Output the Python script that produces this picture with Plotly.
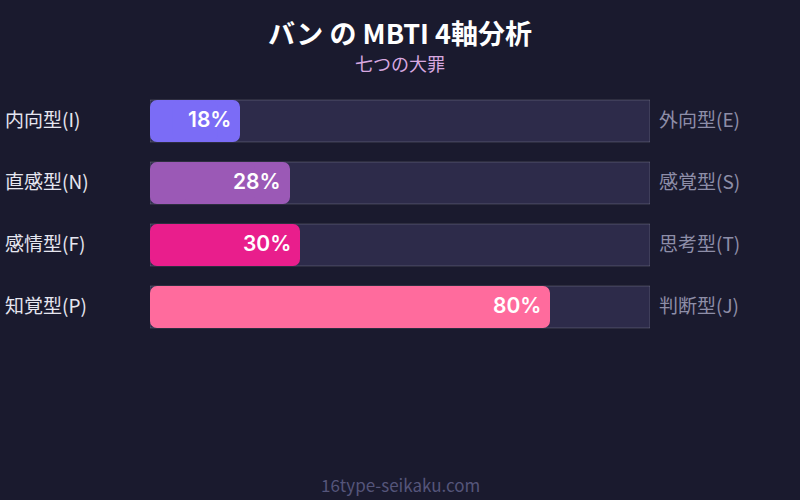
import plotly.graph_objects as go

left_labels = ["内向型(I)", "直感型(N)", "感情型(F)", "知覚型(P)"]
right_labels = ["外向型(E)", "感覚型(S)", "思考型(T)", "判断型(J)"]
values = [18, 28, 30, 80]
colors = ["#7b6cf6", "#9b59b6", "#e91e8c", "#ff6b9d"]
title = "バン の MBTI 4軸分析"
subtitle = "七つの大罪"
footer = "16type-seikaku.com"

FONT = "Noto Sans CJK JP, Inter, sans-serif"
BG = "#1a1a2e"
W, H = 800, 500
ML, MR, MT, MB = 150, 150, 90, 162
PH = H - MT - MB
rows = list(range(len(values)))
half = [v / 2 for v in values]
quarter = [v / 4 for v in values]


def py(p):
    # pixel from top -> paper y
    return (H - MB - p) / PH


fig = go.Figure()
fig.add_trace(go.Bar(
    x=[100] * len(values), y=rows, orientation="h", width=0.677,
    marker=dict(color="#2d2b4a", line=dict(color="rgba(255,255,255,0.18)", width=1)),
    hoverinfo="skip", showlegend=False,
))
# bar drawn in pieces so that both ends are rounded
seg_specs = [
    (half, half),                      # centre -> value end
    ([-h for h in half], half),        # centre -> zero end
    (half, quarter),                   # filler across the seam
]
for xs, bs in seg_specs:
    fig.add_trace(go.Bar(
        x=xs, base=bs, y=rows, orientation="h", width=0.677,
        marker=dict(color=colors, line=dict(width=0), cornerradius=7),
        hoverinfo="skip", showlegend=False,
    ))

annotations = []
for i, (l, r, v) in enumerate(zip(left_labels, right_labels, values)):
    annotations.append(dict(x=-0.294, y=i, xref="paper", yref="y", text=l, showarrow=False,
                            xanchor="left", yanchor="middle", yshift=3,
                            font=dict(color="#e6e6f0", size=19, family=FONT)))
    annotations.append(dict(x=1.014, y=i, xref="paper", yref="y", text=r, showarrow=False,
                            xanchor="left", yanchor="middle", yshift=3,
                            font=dict(color="#8e8ea8", size=19, family=FONT)))
    annotations.append(dict(x=v, y=i, xref="x", yref="y", text=f"{v}%", showarrow=False,
                            xanchor="right", yanchor="middle", xshift=-7, yshift=2,
                            font=dict(color="white", size=21, family="Inter, sans-serif", weight=600)))

annotations.append(dict(x=0.5, y=py(32), xref="paper", yref="paper", text=f"<b>{title}</b>",
                        showarrow=False, xanchor="center", yanchor="middle",
                        font=dict(color="white", size=27, family=FONT)))
annotations.append(dict(x=0.5, y=py(63), xref="paper", yref="paper", text=subtitle,
                        showarrow=False, xanchor="center", yanchor="middle",
                        font=dict(color="#d8a8e0", size=18, family=FONT)))
annotations.append(dict(x=0.5, y=py(484), xref="paper", yref="paper", text=footer,
                        showarrow=False, xanchor="center", yanchor="middle",
                        font=dict(color="#55557a", size=17, family=FONT)))

fig.update_layout(
    width=W, height=H,
    margin=dict(l=ML, r=MR, t=MT, b=MB),
    paper_bgcolor=BG, plot_bgcolor=BG,
    barmode="overlay",
    xaxis=dict(range=[0, 100], visible=False, fixedrange=True),
    yaxis=dict(range=[3.5, -0.5], visible=False, fixedrange=True),
    annotations=annotations,
    font=dict(family=FONT),
)

fig.write_html("out.html", config={"displayModeBar": False},
               post_script="document.body.style.margin='0';document.body.style.background='#1a1a2e';")
